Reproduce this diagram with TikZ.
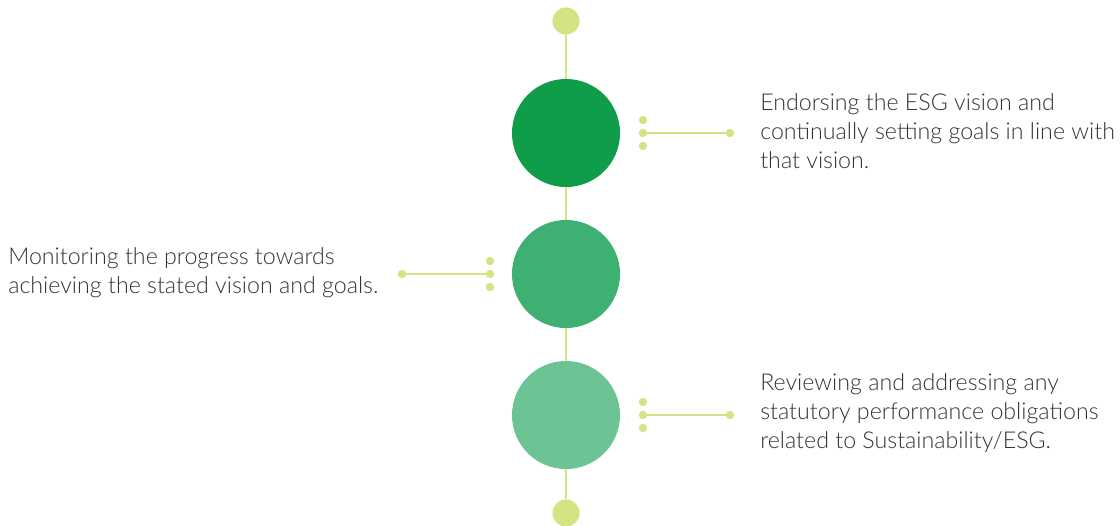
\documentclass[tikz,border=0pt]{standalone}
\usepackage{fontspec}
\setmainfont{Lato}[UprightFont=* Light]
\definecolor{esgdark}{RGB}{16,157,74}
\definecolor{esgmid}{RGB}{62,176,115}
\definecolor{esglight}{RGB}{108,196,148}
\definecolor{esglime}{RGB}{212,227,132}
\tikzset{
    bigdot/.style={circle, inner sep=0pt, minimum size=2.7cm},
    enddot/.style={circle, fill=esglime, inner sep=0pt, minimum size=0.68cm},
    tickdot/.style={circle, fill=esglime, inner sep=0pt, minimum size=0.21cm},
    stem/.style={draw=esglime, line width=2.1pt},
    link/.style={draw=esglime, line width=1.8pt},
    desc/.style={anchor=west, align=left, inner sep=0pt, text=black!80,
        font=\fontsize{16.5}{20.6}\selectfont}
}
\begin{document}
\begin{tikzpicture}[x=0.025cm, y=-0.025cm]
    \useasboundingbox (0,0) rectangle (1120,526);

    % Spine of the timeline
    \node[enddot] (top) at (566,21) {};
    \node[bigdot, fill=esgdark] (c1) at (566,133) {};
    \node[bigdot, fill=esgmid] (c2) at (566,274) {};
    \node[bigdot, fill=esglight] (c3) at (566,415) {};
    \node[enddot] (bot) at (566,513) {};
    \draw[stem] (top) -- (c1);
    \draw[stem] (c1) -- (c2);
    \draw[stem] (c2) -- (c3);
    \draw[stem] (c3) -- (bot);

    % Connectors: three dots and a line out to the text
    \foreach \n/\x/\y/\e in {1/643/133/730, 2/490/274/402, 3/643/415/730} {
        \node[tickdot] (t\n a) at (\x,\y-13) {};
        \node[tickdot] (t\n m) at (\x,\y) {};
        \node[tickdot] (t\n b) at (\x,\y+13) {};
        \node[tickdot] (t\n e) at (\e,\y) {};
        \draw[link] (t\n m.center) -- (t\n e.center);
    }

    % Descriptions
    \node[desc] (d1) at (760,131) {Endorsing the ESG vision and\\continually setting goals in line with\\that vision.};
    \node[desc] (d2) at (8,273) {Monitoring the progress towards\\achieving the stated vision and goals.};
    \node[desc] (d3) at (760,413) {Reviewing and addressing any\\statutory performance obligations\\related to Sustainability/ESG.};
\end{tikzpicture}
\end{document}
